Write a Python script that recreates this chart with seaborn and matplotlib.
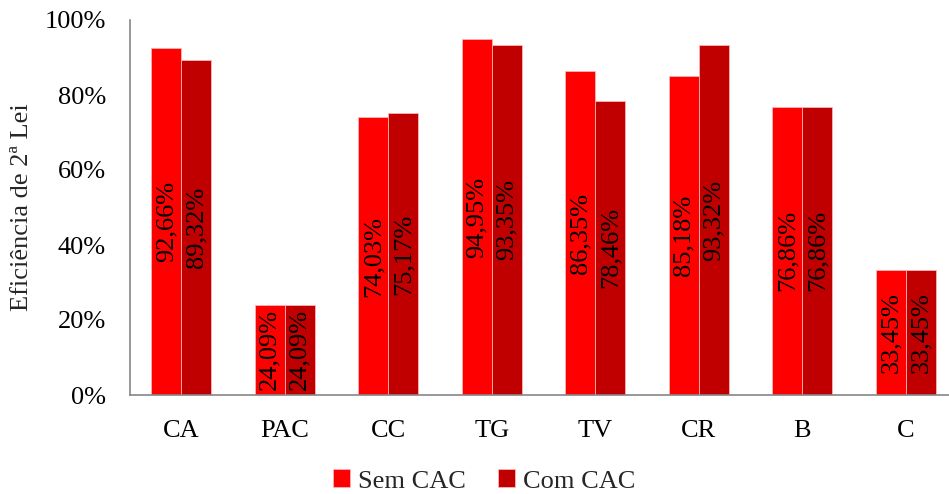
import matplotlib
matplotlib.use("Agg")
import matplotlib.pyplot as plt
from matplotlib.ticker import FixedLocator, FuncFormatter
import seaborn as sns
import pandas as pd

# Second-law efficiency per component, without and with CAC
categories = ["CA", "PAC", "CC", "TG", "TV", "CR", "B", "C"]
sem_cac = [92.66, 24.09, 74.03, 94.95, 86.35, 85.18, 76.86, 33.45]
com_cac = [89.32, 24.09, 75.17, 93.35, 78.46, 93.32, 76.86, 33.45]
series_names = ["Sem CAC", "Com CAC"]
y_ticks = [0, 20, 40, 60, 80, 100]

df = pd.DataFrame({
    "Componente": categories * 2,
    "Eficiencia": sem_cac + com_cac,
    "Caso": [series_names[0]] * len(categories) + [series_names[1]] * len(categories),
})

FS = 19

sns.set_theme(style="white")
plt.rcParams["font.family"] = ["Liberation Serif", "DejaVu Serif"]
plt.rcParams["font.size"] = FS

fig = plt.figure(figsize=(9.49, 4.94), dpi=100)
ax = fig.add_axes([129.5 / 949, 99 / 494, 828 / 949, 375 / 494])

palette = {"Sem CAC": "#FF0000", "Com CAC": "#C00000"}
sns.barplot(data=df, x="Componente", y="Eficiencia", hue="Caso",
            order=categories, hue_order=series_names, palette=palette,
            width=0.58, errorbar=None, edgecolor="#FFB3B3", linewidth=0.6,
            saturation=1.0, ax=ax)

# Rotated value labels centred in each bar
for container, vals in zip(ax.containers, [sem_cac, com_cac]):
    labels = [f"{v:.2f}%".replace(".", ",") for v in vals]
    ax.bar_label(container, labels=labels, label_type="center",
                 rotation=90, fontsize=FS, color="black")

ax.set_xlim(-0.5, len(categories) - 0.5)
ax.set_ylim(0, 100)
ax.yaxis.set_major_locator(FixedLocator(y_ticks))
ax.yaxis.set_major_formatter(FuncFormatter(lambda v, _: f"{v:.0f}%"))

# Category labels at centres, tick marks at category boundaries
ax.set_xticks(range(len(categories)))
ax.set_xticklabels(categories)
ax.set_xticks([i - 0.5 for i in range(len(categories) + 1)], minor=True)
ax.tick_params(axis="x", which="major", length=0, pad=18, labelsize=FS, colors="black")
ax.tick_params(axis="x", which="minor", length=6, width=1.2, color="#868686", direction="out")
ax.tick_params(axis="y", which="major", length=6, width=1.2, color="#868686",
               direction="out", pad=11, labelsize=FS, labelcolor="black")

for side in ["top", "right"]:
    ax.spines[side].set_visible(False)
for side in ["left", "bottom"]:
    ax.spines[side].set_color("#868686")
    ax.spines[side].set_linewidth(1.2)

ax.set_xlabel("")
ax.set_ylabel("Eficiência de 2ª Lei", fontsize=FS)
ax.yaxis.set_label_coords(-0.117, 0.5)

ax.get_legend().remove()
handles, lbls = ax.get_legend_handles_labels()
fig.legend(handles, lbls, loc="center", bbox_to_anchor=(484 / 949, 1 - 481 / 494),
           ncol=2, frameon=False, fontsize=FS, handlelength=0.65, handleheight=0.65,
           handletextpad=0.3, columnspacing=1.2)

fig.savefig("out.png", dpi=100)
